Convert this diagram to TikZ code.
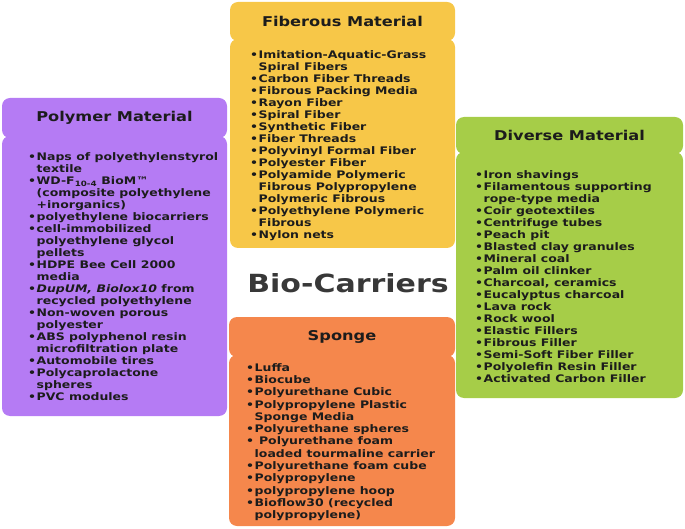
\documentclass[tikz,border=0pt]{standalone}
\usepackage{fontspec}
\setmainfont{DejaVu Sans}[FakeStretch=1.2]
\usepackage{tikz}
\usepackage{xcolor}

\definecolor{polyC}{HTML}{B57BF4}
\definecolor{fibC}{HTML}{F7C748}
\definecolor{divC}{HTML}{A6CD48}
\definecolor{spoC}{HTML}{F5874C}
\definecolor{txtC}{HTML}{1C1C1C}

\newcommand{\bl}{\makebox[8.5pt][l]{\textbullet}}
\newcommand{\ct}{\hspace*{8.5pt}}

\begin{document}
\begin{tikzpicture}[x=1pt, y=1pt,
    panel/.style={rectangle, rounded corners=8pt, draw=none, inner sep=0pt},
    hdr/.style={panel, text=txtC, font=\fontsize{13.5}{15}\selectfont\bfseries},
    list/.style={anchor=north west, align=left, inner sep=0pt, text=txtC,
        font=\fontsize{10.4}{12}\selectfont\bfseries}]

    \useasboundingbox (0,0) rectangle (685,528);

    % Polymer panel
    \node[hdr, fill=polyC, minimum width=225, minimum height=40] (polyH) at (114.5,410) {Polymer Material};
    \node[panel, fill=polyC, minimum width=225, minimum height=280] (polyB) at (114.5,252) {};

    % Fiberous panel
    \node[hdr, fill=fibC, minimum width=225, minimum height=39] (fibH) at (342.5,506.5) {Fiberous Material};
    \node[panel, fill=fibC, minimum width=225, minimum height=209] (fibB) at (342.5,384.5) {};

    % Diverse panel
    \node[hdr, fill=divC, minimum width=227, minimum height=37] (divH) at (569.5,392.5) {Diverse Material};
    \node[panel, fill=divC, minimum width=227, minimum height=246] (divB) at (569.5,253) {};

    % Sponge panel
    \node[hdr, fill=spoC, minimum width=226, minimum height=40] (spoH) at (342,191) {Sponge};
    \node[panel, fill=spoC, minimum width=226, minimum height=171] (spoB) at (342,87.5) {};

    % Centre title
    \node[text=black!78, font=\fontsize{25}{28}\selectfont\bfseries] (bio) at (348,245) {Bio-Carriers};

    % Lists
    \node[list] (polyL) at (28,376) {%
        \bl Naps of polyethylenstyrol\\ \ct textile\\
        \bl WD-F\textsubscript{10-4} BioM™\\ \ct (composite polyethylene\\ \ct +inorganics)\\
        \bl polyethylene biocarriers\\
        \bl cell-immobilized\\ \ct polyethylene glycol\\ \ct pellets\\
        \bl HDPE Bee Cell 2000\\ \ct media\\
        \bl {\itshape DupUM, Biolox10} from\\ \ct recycled polyethylene\\
        \bl Non-woven porous\\ \ct polyester\\
        \bl ABS polyphenol resin\\ \ct microfiltration plate\\
        \bl Automobile tires\\
        \bl Polycaprolactone\\ \ct spheres\\
        \bl PVC modules};

    \node[list] (fibL) at (250,478) {%
        \bl Imitation-Aquatic-Grass\\ \ct Spiral Fibers\\
        \bl Carbon Fiber Threads\\
        \bl Fibrous Packing Media\\
        \bl Rayon Fiber\\
        \bl Spiral Fiber\\
        \bl Synthetic Fiber\\
        \bl Fiber Threads\\
        \bl Polyvinyl Formal Fiber\\
        \bl Polyester Fiber\\
        \bl Polyamide Polymeric\\ \ct Fibrous Polypropylene\\ \ct Polymeric Fibrous\\
        \bl Polyethylene Polymeric\\ \ct Fibrous\\
        \bl Nylon nets};

    \node[list] (divL) at (475,358) {%
        \bl Iron shavings\\
        \bl Filamentous supporting\\ \ct rope-type media\\
        \bl Coir geotextiles\\
        \bl Centrifuge tubes\\
        \bl Peach pit\\
        \bl Blasted clay granules\\
        \bl Mineral coal\\
        \bl Palm oil clinker\\
        \bl Charcoal, ceramics\\
        \bl Eucalyptus charcoal\\
        \bl Lava rock\\
        \bl Rock wool\\
        \bl Elastic Fillers\\
        \bl Fibrous Filler\\
        \bl Semi-Soft Fiber Filler\\
        \bl Polyolefin Resin Filler\\
        \bl Activated Carbon Filler};

    \node[list, font=\fontsize{10.4}{12.3}\selectfont\bfseries] (spoL) at (246,165) {%
        \bl Luffa\\
        \bl Biocube\\
        \bl Polyurethane Cubic\\
        \bl Polypropylene Plastic\\ \ct Sponge Media\\
        \bl Polyurethane spheres\\
        \bl\ Polyurethane foam\\ \ct loaded tourmaline carrier\\
        \bl Polyurethane foam cube\\
        \bl Polypropylene\\
        \bl polypropylene hoop\\
        \bl Bioflow30 (recycled\\ \ct polypropylene)};

\end{tikzpicture}
\end{document}
